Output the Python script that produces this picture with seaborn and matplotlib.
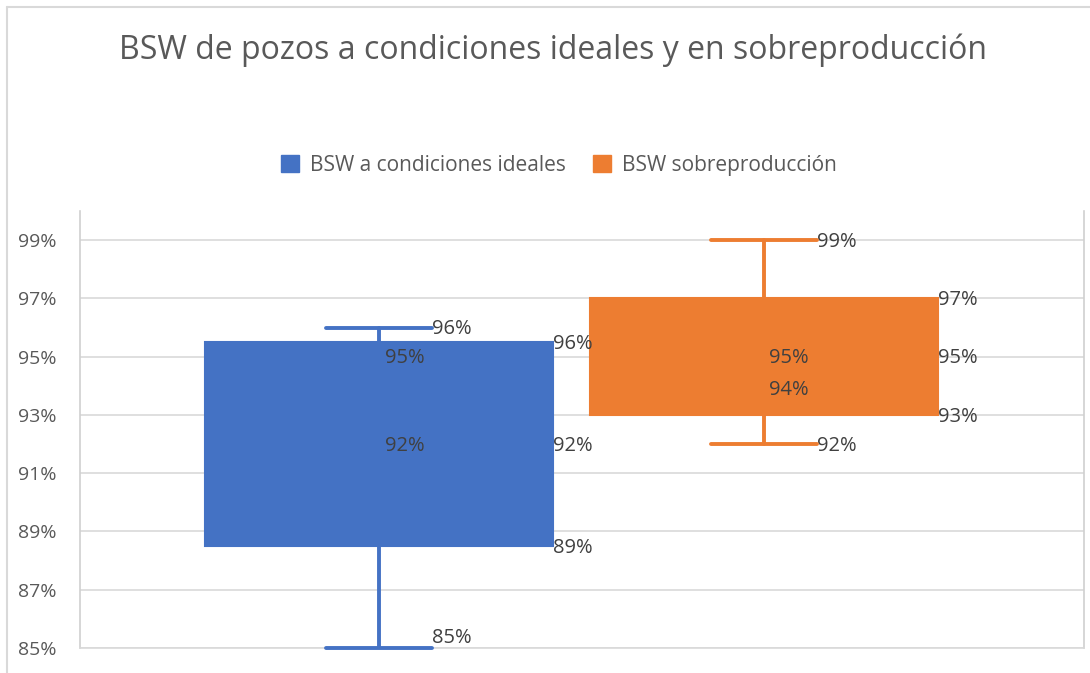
import numpy as np
import pandas as pd
import seaborn as sns
import matplotlib.pyplot as plt
from matplotlib.lines import Line2D
from matplotlib.patches import Patch

# box statistics (in %)
series = ['BSW a condiciones ideales', 'BSW sobreproducción']
whisker_low = [85, 92]
q1 = [88.5, 93]
median = [92, 95]
q3 = [95.5, 97]
whisker_high = [96, 99]
# labels shown inside the boxes (mean / inner points)
inner_vals = [[95, 92], [95, 93.9]]
inner_text = [['95%', '92%'], ['95%', '94%']]
colors = ['#4472C4', '#ED7D31']

yticks = [85, 87, 89, 91, 93, 95, 97, 99]

sns.set_theme(style='white')
plt.rcParams['font.family'] = ['Open Sans', 'DejaVu Sans']
txt = '#595959'

fig = plt.figure(figsize=(10.9, 6.73), dpi=100)
ax = fig.add_axes([80/1090, 1 - 648/673, (1084 - 80)/1090, (648 - 211)/673])

stats = []
for i in range(len(series)):
    stats.append({'whislo': whisker_low[i], 'q1': q1[i], 'med': median[i],
                  'q3': q3[i], 'whishi': whisker_high[i], 'label': series[i]})

bp = ax.bxp(stats, positions=[0, 1], widths=0.904, capwidths=0.275,
            showfliers=False, patch_artist=True)
for i, c in enumerate(colors):
    bp['boxes'][i].set(facecolor=c, edgecolor=c, linewidth=1.5)
    bp['medians'][i].set(color=c, linewidth=1.5)
    for w in bp['whiskers'][2*i:2*i+2]:
        w.set(color=c, linewidth=2.8)
    for cp in bp['caps'][2*i:2*i+2]:
        cp.set(color=c, linewidth=2.8, clip_on=False, zorder=5)

ax.set_xlim(-0.777, 1.831)
ax.set_ylim(85, 100)
ax.set_yticks(yticks)
ax.set_yticklabels([f'{v}%' for v in yticks], color=txt, fontsize=14)
ax.set_xticks([])
ax.tick_params(axis='y', length=0, pad=17)
ax.yaxis.grid(True, color='#D9D9D9', linewidth=1.2)
ax.set_axisbelow(True)
for s in ['left', 'right']:
    ax.spines[s].set_color('#D0D0D0')
    ax.spines[s].set_linewidth(1.2)
ax.spines['top'].set_visible(False)
ax.spines['bottom'].set_color('#D9D9D9')
ax.spines['bottom'].set_linewidth(1.2)

# data labels
lab = dict(color='#404040', fontsize=14.5, va='center', ha='left')
dy = -0.06
for i in range(len(series)):
    cap_r = i + 0.275/2
    box_r = i + 0.904/2
    hi_y = whisker_high[i]
    lo_y = whisker_low[i] if whisker_low[i] > 85.3 else 85.4
    ax.text(cap_r, hi_y + dy, f'{whisker_high[i]:.0f}%', **lab)
    ax.text(cap_r, lo_y + dy, f'{whisker_low[i]:.0f}%', **lab)
    for v in [q3[i], median[i], q1[i]]:
        ax.text(box_r, v + dy, f'{round(v + 0.01):.0f}%', **lab)
    for v, t in zip(inner_vals[i], inner_text[i]):
        ax.text(i + 0.014, v + dy, t, **lab)

fig.text(553/1090, 1 - 50/673, 'BSW de pozos a condiciones ideales y en sobreproducción',
         ha='center', va='center', fontsize=23, color=txt)

handles = [Patch(facecolor=c, edgecolor=c) for c in colors]
fig.legend(handles, series, loc='center', bbox_to_anchor=(559/1090, 1 - 165/673),
           ncol=2, frameon=False, fontsize=15, labelcolor=txt,
           handlelength=0.85, handleheight=0.85, handletextpad=0.55, columnspacing=1.3)

# outer chart border (cropped at right/bottom)
fig.add_artist(Line2D([7/1090, 7/1090], [0, 1 - 7/673], transform=fig.transFigure,
                      color='#D9D9D9', linewidth=1.5))
fig.add_artist(Line2D([7/1090, 1], [1 - 7/673, 1 - 7/673], transform=fig.transFigure,
                      color='#D9D9D9', linewidth=1.5))

fig.savefig('out.png', dpi=100)
